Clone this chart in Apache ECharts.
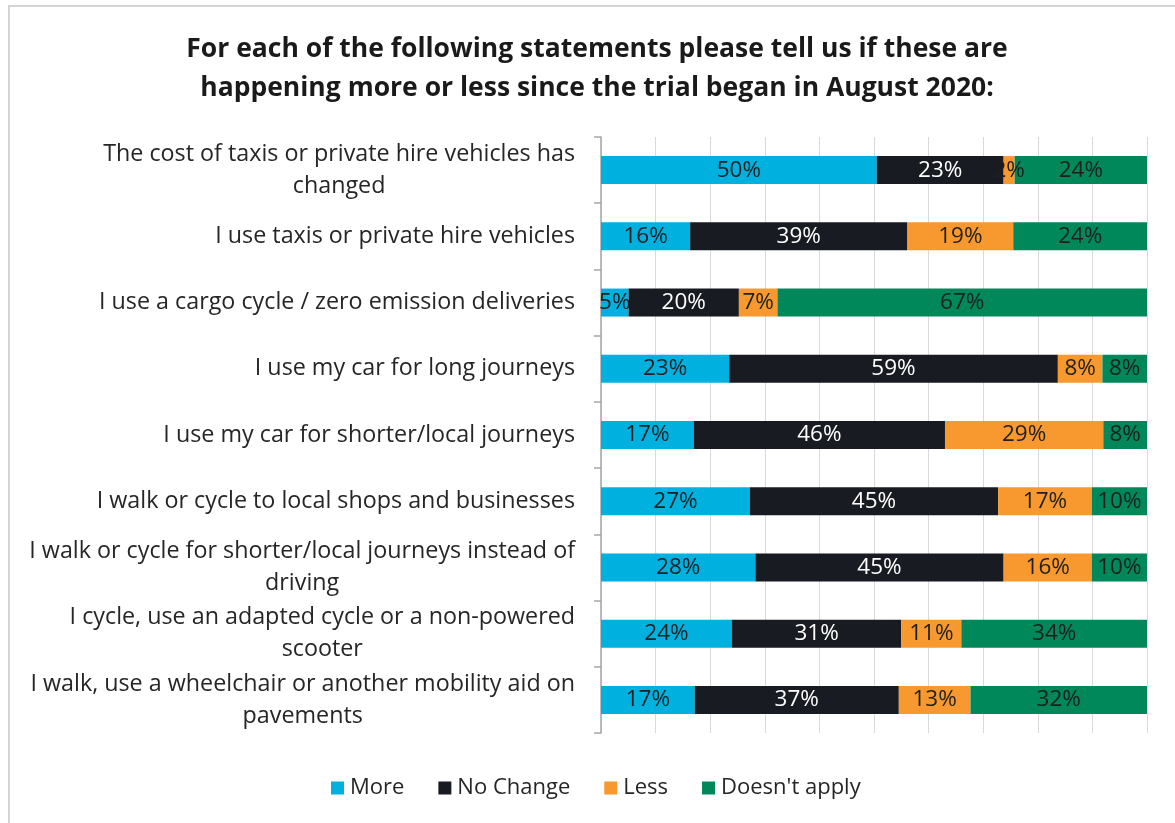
<!DOCTYPE html>
<html>
<head>
<meta charset="utf-8">
<title>Travel behaviour since August 2020</title>
<script src="https://cdn.jsdelivr.net/npm/echarts@6/dist/echarts.min.js"></script>
<style>
  html, body { margin: 0; padding: 0; background: #ffffff; overflow: hidden; }
  #frame {
    position: absolute; left: 8px; top: 5px; width: 1300px; height: 900px;
    border-top: 2px solid #d4d4d4; border-left: 2px solid #d4d4d4;
  }
  #chart { position: absolute; left: 0; top: 0; width: 1175px; height: 823px; }
</style>
</head>
<body>
<div id="frame"></div>
<div id="chart"></div>
<script>
// Survey statements (top to bottom)
const categories = [
  'The cost of taxis or private hire vehicles has\nchanged',
  'I use taxis or private hire vehicles',
  'I use a cargo cycle / zero emission deliveries',
  'I use my car for long journeys',
  'I use my car for shorter/local journeys',
  'I walk or cycle to local shops and businesses',
  'I walk or cycle for shorter/local journeys instead of\ndriving',
  'I cycle, use an adapted cycle or a non-powered\nscooter',
  'I walk, use a wheelchair or another mobility aid on\npavements'
];

// Response shares (%), one value per statement
const more        = [50, 16, 5, 23, 17, 27, 28, 24, 17];
const noChange    = [23, 39, 20, 59, 46, 45, 45, 31, 37];
const less        = [2, 19, 7, 8, 29, 17, 16, 11, 13];
const doesntApply = [24, 24, 67, 8, 8, 10, 10, 34, 32];

const seriesNames = ['More', 'No Change', 'Less', "Doesn't apply"];
const seriesValues = [more, noChange, less, doesntApply];
const seriesColors = ['#00b0df', '#181b21', '#f7992e', '#00875a'];
const labelColors = ['#1f1f1f', '#ffffff', '#1f1f1f', '#1f1f1f'];

// 100% stacked: each row is scaled to its own total
const rowTotals = categories.map((_, i) =>
  seriesValues.reduce((s, arr) => s + arr[i], 0));

const FONT = '"Open Sans", Lato, sans-serif';

const chart = echarts.init(document.getElementById('chart'), null, { renderer: 'canvas' });

chart.setOption({
  animation: false,
  title: {
    text: 'For each of the following statements please tell us if these are\nhappening more or less since the trial began in August 2020:',
    left: 592,
    top: 25,
    textAlign: 'center',
    textStyle: {
      fontFamily: FONT, fontWeight: 'bold', fontSize: 26.5, lineHeight: 39, color: '#1a1a1a'
    }
  },
  legend: {
    bottom: 19,
    left: 326,
    itemWidth: 13,
    itemHeight: 13,
    itemGap: 34,
    icon: 'rect',
    textStyle: { fontFamily: FONT, fontSize: 22, color: '#262626', padding: [0, 0, 0, 1] },
    data: seriesNames
  },
  grid: { left: 601, right: 28, top: 137, bottom: 90, containLabel: false },
  xAxis: {
    type: 'value',
    min: 0, max: 100, interval: 10,
    axisLabel: { show: false },
    axisLine: { show: false },
    axisTick: { show: false },
    splitLine: { show: true, lineStyle: { color: '#d9d9d9', width: 1 } }
  },
  yAxis: {
    type: 'category',
    inverse: true,
    data: categories,
    axisLine: { show: true, lineStyle: { color: '#a6a6a6', width: 1.5 } },
    axisTick: { show: true, length: 7, lineStyle: { color: '#a6a6a6', width: 1.5 } },
    axisLabel: {
      margin: 26,
      formatter: (v) => v.split('\n').map(l => '{c|' + l + '}').join('\n'),
      rich: {
        c: { fontFamily: FONT, fontSize: 23.3, lineHeight: 32, color: '#262626', align: 'center' }
      }
    }
  },
  series: seriesNames.map((name, s) => ({
    name,
    type: 'bar',
    stack: 'total',
    barWidth: 28,
    itemStyle: { color: seriesColors[s] },
    label: {
      show: true,
      position: 'inside',
      fontFamily: FONT,
      fontSize: 22.5,
      color: labelColors[s],
      formatter: (p) => seriesValues[s][p.dataIndex] + '%'
    },
    data: seriesValues[s].map((v, i) => v / rowTotals[i] * 100)
  }))
});
</script>
</body>
</html>
